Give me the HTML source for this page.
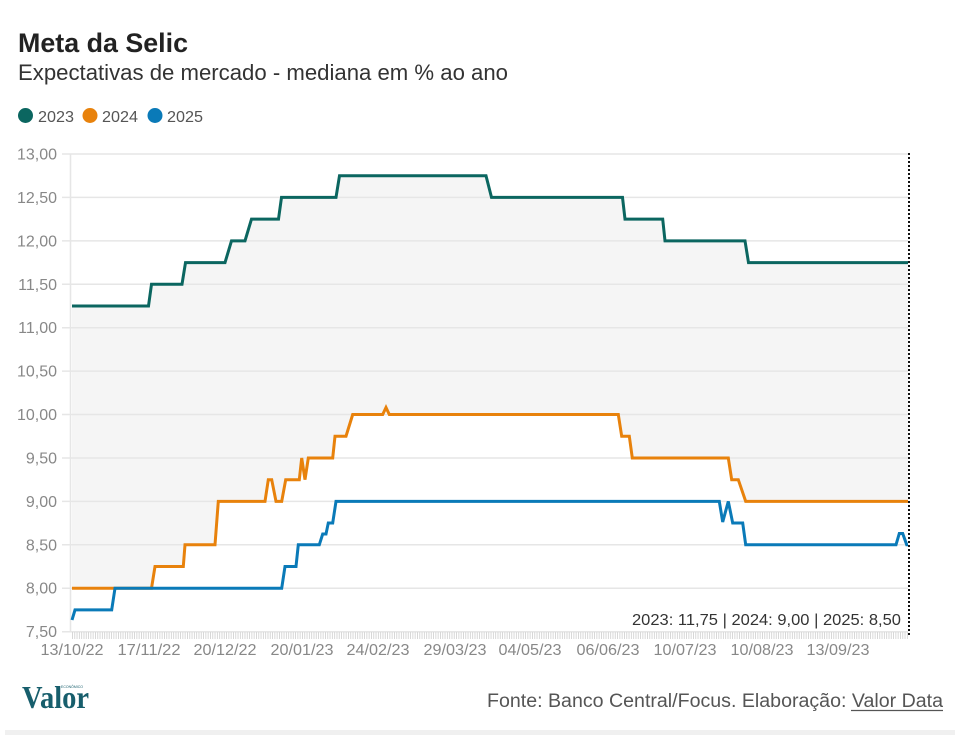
<!DOCTYPE html>
<html>
<head>
<meta charset="utf-8">
<style>
html,body{margin:0;padding:0;background:#fff;}
body{width:969px;height:735px;overflow:hidden;}
svg{display:block;}
text{font-family:"Liberation Sans",sans-serif;}
</style>
</head>
<body>
<svg width="969" height="735" viewBox="0 0 969 735" xmlns="http://www.w3.org/2000/svg">
  <defs>
    <pattern id="ticks" x="72" y="0" width="2.3" height="10" patternUnits="userSpaceOnUse">
      <rect x="0" y="0" width="0.9" height="10" fill="#d4d4d4"/>
    </pattern>
  </defs>
  <rect x="0" y="0" width="969" height="735" fill="#fff"/>

  <!-- Title -->
  <text x="18" y="52" font-size="27" font-weight="bold" fill="#222" textLength="170" lengthAdjust="spacingAndGlyphs">Meta da Selic</text>
  <text x="18" y="80" font-size="22" fill="#333" textLength="490" lengthAdjust="spacingAndGlyphs">Expectativas de mercado - mediana em % ao ano</text>

  <!-- Legend -->
  <circle cx="25.5" cy="115.5" r="7.5" fill="#0b6660"/>
  <text x="38" y="122" font-size="16" fill="#555" textLength="36" lengthAdjust="spacingAndGlyphs">2023</text>
  <circle cx="90" cy="115.5" r="7.5" fill="#e8820c"/>
  <text x="102" y="122" font-size="16" fill="#555" textLength="36" lengthAdjust="spacingAndGlyphs">2024</text>
  <circle cx="155" cy="115.5" r="7.5" fill="#0a7ab8"/>
  <text x="167" y="122" font-size="16" fill="#555" textLength="36" lengthAdjust="spacingAndGlyphs">2025</text>

  <!-- Fill between 2023 and 2024 -->
  <polygon fill="#f5f5f5" points="72,306 148.5,306 151.5,284.3 182,284.3 185.5,262.6 225,262.6 231.5,240.85 245,240.85 251.5,219.1 278.5,219.1 281.5,197.4 336,197.4 339.5,175.7 486,175.7 491.5,197.4 622.5,197.4 625,219.1 662.7,219.1 665,240.85 745,240.85 748.5,262.6 908,262.6 908,501.4 745.7,501.4 738.3,479.7 731.7,479.7 728.3,458 632.3,458 629.3,436.2 621.7,436.2 618.3,414.5 389.3,414.5 386,407.5 382.7,414.5 352.7,414.5 346,436.2 335,436.2 332.7,458 308.3,458 305,479.7 301.7,458 299.3,479.7 285.7,479.7 281.7,501.4 276,501.4 271.7,479.7 268.3,479.7 265,501.4 218.3,501.4 215,544.8 185,544.8 183.3,566.5 155,566.5 151.5,588.2 72,588.2"/>

  <!-- Gridlines -->
  <g stroke="#e6e6e6" stroke-width="1.5">
    <line x1="62" y1="154" x2="908" y2="154"/>
    <line x1="62" y1="197.4" x2="908" y2="197.4"/>
    <line x1="62" y1="240.85" x2="908" y2="240.85"/>
    <line x1="62" y1="284.3" x2="908" y2="284.3"/>
    <line x1="62" y1="327.7" x2="908" y2="327.7"/>
    <line x1="62" y1="371.15" x2="908" y2="371.15"/>
    <line x1="62" y1="414.5" x2="908" y2="414.5"/>
    <line x1="62" y1="458" x2="908" y2="458"/>
    <line x1="62" y1="501.4" x2="908" y2="501.4"/>
    <line x1="62" y1="544.8" x2="908" y2="544.8"/>
    <line x1="62" y1="588.2" x2="908" y2="588.2"/>
    <line x1="62" y1="631.7" x2="908" y2="631.7"/>
    <line x1="70.5" y1="154" x2="70.5" y2="632"/>
  </g>
  <!-- x tick band -->
  <rect x="72" y="632" width="836" height="7" fill="url(#ticks)"/>

  <!-- Y labels -->
  <g font-size="16" fill="#888" text-anchor="end">
    <text x="57" y="159.5">13,00</text>
    <text x="57" y="203">12,50</text>
    <text x="57" y="246.4">12,00</text>
    <text x="57" y="289.8">11,50</text>
    <text x="57" y="333.2">11,00</text>
    <text x="57" y="376.7">10,50</text>
    <text x="57" y="420">10,00</text>
    <text x="57" y="463.5">9,50</text>
    <text x="57" y="507">9,00</text>
    <text x="57" y="550.3">8,50</text>
    <text x="57" y="593.7">8,00</text>
    <text x="57" y="637.2">7,50</text>
  </g>

  <!-- X labels -->
  <g font-size="16" fill="#888" text-anchor="middle">
    <text x="72" y="655" textLength="63" lengthAdjust="spacingAndGlyphs">13/10/22</text>
    <text x="149" y="655" textLength="63" lengthAdjust="spacingAndGlyphs">17/11/22</text>
    <text x="225" y="655" textLength="63" lengthAdjust="spacingAndGlyphs">20/12/22</text>
    <text x="302" y="655" textLength="63" lengthAdjust="spacingAndGlyphs">20/01/23</text>
    <text x="378" y="655" textLength="63" lengthAdjust="spacingAndGlyphs">24/02/23</text>
    <text x="455" y="655" textLength="63" lengthAdjust="spacingAndGlyphs">29/03/23</text>
    <text x="530" y="655" textLength="63" lengthAdjust="spacingAndGlyphs">04/05/23</text>
    <text x="608" y="655" textLength="63" lengthAdjust="spacingAndGlyphs">06/06/23</text>
    <text x="685" y="655" textLength="63" lengthAdjust="spacingAndGlyphs">10/07/23</text>
    <text x="762" y="655" textLength="63" lengthAdjust="spacingAndGlyphs">10/08/23</text>
    <text x="838" y="655" textLength="63" lengthAdjust="spacingAndGlyphs">13/09/23</text>
  </g>

  <!-- Series -->
  <g fill="none" stroke-width="3" stroke-linejoin="miter" stroke-linecap="butt">
    <polyline stroke="#0b6660" points="72,306 148.5,306 151.5,284.3 182,284.3 185.5,262.6 225,262.6 231.5,240.85 245,240.85 251.5,219.1 278.5,219.1 281.5,197.4 336,197.4 339.5,175.7 486,175.7 491.5,197.4 622.5,197.4 625,219.1 662.7,219.1 665,240.85 745,240.85 748.5,262.6 908,262.6"/>
    <polyline stroke="#e8820c" points="72,588.2 151.5,588.2 155,566.5 183.3,566.5 185,544.8 215,544.8 218.3,501.4 265,501.4 268.3,479.7 271.7,479.7 276,501.4 281.7,501.4 285.7,479.7 299.3,479.7 301.7,458 305,479.7 308.3,458 332.7,458 335,436.2 346,436.2 352.7,414.5 382.7,414.5 386,407.5 389.3,414.5 618.3,414.5 621.7,436.2 629.3,436.2 632.3,458 728.3,458 731.7,479.7 738.3,479.7 745.7,501.4 908,501.4"/>
    <polyline stroke="#0a7ab8" points="72,620 75,609.9 111.7,609.9 115,588.2 281.7,588.2 285,566.5 296,566.5 298.3,544.8 319.3,544.8 322.7,534 326,534 328.3,523 332.7,523 336,501.4 719.3,501.4 722.7,522 728.3,501.4 732.7,523 742.7,523 745.7,544.8 896,544.8 899.3,533.5 902.7,533.5 906.7,544.8 908,544.8"/>
  </g>

  <!-- Dotted marker line -->
  <line x1="909" y1="153" x2="909" y2="636" stroke="#111" stroke-width="2" stroke-dasharray="2,2"/>

  <!-- Annotation -->
  <text x="632" y="625" font-size="16" fill="#333" textLength="269" lengthAdjust="spacingAndGlyphs">2023: 11,75 | 2024: 9,00 | 2025: 8,50</text>

  <!-- Footer logo -->
  <text x="22" y="708" font-family="Liberation Serif, serif" font-size="32" font-weight="bold" fill="#175e6c" textLength="67" lengthAdjust="spacingAndGlyphs" style="font-family:'Liberation Serif',serif">Valor</text>
  <text x="61" y="688" font-size="3.5" fill="#175e6c" style="font-family:'Liberation Sans',sans-serif">ECONÔMICO</text>

  <!-- Source -->
  <text x="487" y="707" font-size="19" fill="#555" textLength="456" lengthAdjust="spacingAndGlyphs">Fonte: Banco Central/Focus. Elaboração: Valor Data</text>
  <line x1="851" y1="710.5" x2="943" y2="710.5" stroke="#555" stroke-width="1.2"/>

  <!-- Bottom strip -->
  <rect x="5" y="730" width="950" height="5" fill="#f0f0f0"/>
</svg>
</body>
</html>
